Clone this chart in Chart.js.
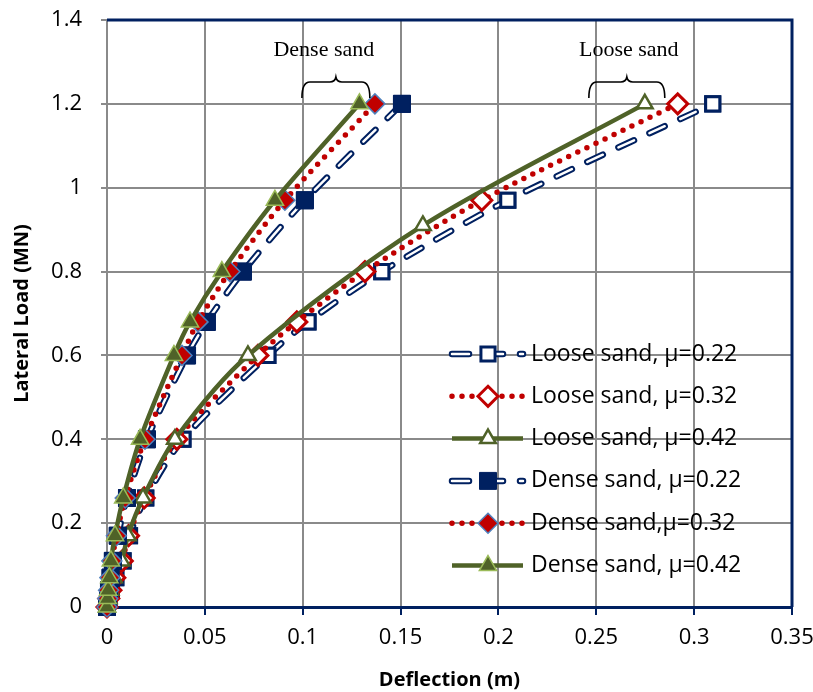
<!DOCTYPE html>
<html lang="en">
<head>
<meta charset="utf-8">
<title>Lateral load vs deflection</title>
<script src="https://cdn.jsdelivr.net/npm/chart.js@4.4.1/dist/chart.umd.min.js"></script>
<style>
  html, body { margin: 0; padding: 0; background: #fff; }
</style>
</head>
<body>
<canvas id="chart" width="813" height="692"></canvas>
<script>
// lateral load levels (MN)
var loadLevels  = [0, 0.02, 0.04, 0.07, 0.11, 0.17, 0.26, 0.4, 0.6, 0.68, 0.8, 0.97, 1.2];
var looseLoad42 = [0, 0.02, 0.04, 0.07, 0.11, 0.17, 0.26, 0.4, 0.6, 0.91, 1.2];

// deflection (m)
var looseDefl22 = [0, 0.001, 0.0022, 0.0045, 0.0082, 0.0115, 0.0198, 0.0388, 0.0822, 0.1027, 0.1404, 0.2048, 0.3095];
var looseDefl32 = [0, 0.0009, 0.002, 0.004, 0.0078, 0.011, 0.019, 0.0357, 0.0771, 0.097, 0.1318, 0.1915, 0.2916];
var looseDefl42 = [0, 0.0008, 0.0018, 0.0035, 0.0075, 0.0107, 0.0184, 0.0347, 0.072, 0.1614, 0.2748];
var denseDefl22 = [0, 0.0005, 0.001, 0.0018, 0.003, 0.0055, 0.0102, 0.0204, 0.0409, 0.051, 0.0695, 0.1011, 0.1507];
var denseDefl32 = [0, 0.0004, 0.0008, 0.0015, 0.0025, 0.0048, 0.0093, 0.0194, 0.0383, 0.0465, 0.0628, 0.0909, 0.1369];
var denseDefl42 = [0, 0.0003, 0.0006, 0.0012, 0.002, 0.0041, 0.0083, 0.0169, 0.0342, 0.0424, 0.0587, 0.0858, 0.129];

var seriesLabels = ['Loose sand, μ=0.22', 'Loose sand, μ=0.32', 'Loose sand, μ=0.42',
                    'Dense sand, μ=0.22', 'Dense sand,μ=0.32', 'Dense sand, μ=0.42'];

var xTickLabels = ['0', '0.05', '0.1', '0.15', '0.2', '0.25', '0.3', '0.35'];
var yTickLabels = ['0', '0.2', '0.4', '0.6', '0.8', '1', '1.2', '1.4'];

var NAVY = '#002060', RED = '#C00000', OLIVE = '#4F6228';

function pairs(xs, ys) {
  return xs.map(function (x, i) { return { x: x, y: ys[i] }; });
}

var navyDash = [17, 17];
var redDots = [0, 10];

var datasets = [
  { label: seriesLabels[0], data: pairs(looseDefl22, loadLevels), compound: true,
    borderColor: NAVY, borderWidth: 6.5, borderDash: navyDash, borderCapStyle: 'round',
    pointStyle: 'rect', pointRadius: 10, pointBorderWidth: 3,
    pointBackgroundColor: '#fff', pointBorderColor: NAVY, order: 5 },
  { label: seriesLabels[1], data: pairs(looseDefl32, loadLevels),
    borderColor: RED, borderWidth: 5.5, borderDash: redDots, borderCapStyle: 'round',
    pointStyle: 'rectRot', pointRadius: 10, pointBorderWidth: 3,
    pointBackgroundColor: '#fff', pointBorderColor: RED, order: 4 },
  { label: seriesLabels[2], data: pairs(looseDefl42, looseLoad42),
    borderColor: OLIVE, borderWidth: 4.5,
    pointStyle: 'triangle', pointRadius: 9, pointBorderWidth: 2.5,
    pointBackgroundColor: '#fff', pointBorderColor: OLIVE, order: 3 },
  { label: seriesLabels[3], data: pairs(denseDefl22, loadLevels), compound: true,
    borderColor: NAVY, borderWidth: 6.5, borderDash: navyDash, borderCapStyle: 'round',
    pointStyle: 'rect', pointRadius: 12, pointBorderWidth: 1,
    pointBackgroundColor: NAVY, pointBorderColor: NAVY, order: 2 },
  { label: seriesLabels[4], data: pairs(denseDefl32, loadLevels),
    borderColor: RED, borderWidth: 5.5, borderDash: redDots, borderCapStyle: 'round',
    pointStyle: 'rectRot', pointRadius: 10, pointBorderWidth: 1.5,
    pointBackgroundColor: RED, pointBorderColor: '#4F81BD', order: 1 },
  { label: seriesLabels[5], data: pairs(denseDefl42, loadLevels),
    borderColor: OLIVE, borderWidth: 4.5,
    pointStyle: 'triangle', pointRadius: 10, pointBorderWidth: 1.5,
    pointBackgroundColor: OLIVE, pointBorderColor: '#9BBB59', order: 0 }
];
datasets.forEach(function (d) {
  d.showLine = true;
  d.tension = 0.3;
  d.clip = false;
});

// draws a marker like Chart.js point styles
function drawMarker(ctx, style, x, y, r, fill, stroke, bw) {
  ctx.save();
  ctx.setLineDash([]);
  ctx.beginPath();
  if (style === 'rect') {
    var h = r * Math.SQRT1_2;
    ctx.rect(x - h, y - h, 2 * h, 2 * h);
  } else if (style === 'rectRot') {
    ctx.moveTo(x, y - r); ctx.lineTo(x + r, y); ctx.lineTo(x, y + r); ctx.lineTo(x - r, y);
    ctx.closePath();
  } else {
    for (var k = 0; k < 3; k++) {
      var a = k * 2 * Math.PI / 3;
      var px = x + Math.sin(a) * r, py = y - Math.cos(a) * r;
      if (k === 0) ctx.moveTo(px, py); else ctx.lineTo(px, py);
    }
    ctx.closePath();
  }
  ctx.fillStyle = fill;
  ctx.fill();
  ctx.lineWidth = bw;
  ctx.strokeStyle = stroke;
  ctx.stroke();
  ctx.restore();
}

// white core for the hollow dashed lines, then put the markers back on top
var compoundLine = {
  id: 'compoundLine',
  afterDatasetDraw: function (chart, args) {
    var ds = chart.data.datasets[args.index];
    if (!ds.compound) return;
    var ctx = chart.ctx, meta = args.meta;
    ctx.save();
    ctx.beginPath();
    meta.dataset.path(ctx);
    ctx.setLineDash(ds.borderDash);
    ctx.lineCap = 'round';
    ctx.lineJoin = 'round';
    ctx.lineWidth = 2.5;
    ctx.strokeStyle = '#fff';
    ctx.stroke();
    ctx.restore();
    meta.data.forEach(function (pt) { pt.draw(ctx, chart.chartArea); });
  }
};

var frame = {
  id: 'frame',
  afterDatasetsDraw: function (chart) {
    var ctx = chart.ctx, a = chart.chartArea;
    ctx.save();
    ctx.strokeStyle = NAVY;
    ctx.lineWidth = 3;
    ctx.beginPath();
    ctx.moveTo(a.left, a.top);
    ctx.lineTo(a.right, a.top);
    ctx.lineTo(a.right, a.bottom);
    ctx.stroke();
    ctx.restore();
  }
};

function brace(ctx, x1, x2, yTop, yEnd) {
  var mid = (x1 + x2) / 2, yb = yTop + 5;
  ctx.beginPath();
  ctx.moveTo(x1, yEnd);
  ctx.quadraticCurveTo(x1, yb, x1 + 8, yb);
  ctx.lineTo(mid - 6, yb);
  ctx.quadraticCurveTo(mid - 1, yb, mid, yTop);
  ctx.quadraticCurveTo(mid + 1, yb, mid + 6, yb);
  ctx.lineTo(x2 - 8, yb);
  ctx.quadraticCurveTo(x2, yb, x2, yEnd);
  ctx.stroke();
}

// group notes above the curves
var groupNotes = [
  { text: 'Dense sand', x: 0.1108, y: 1.328, from: 0.0996, to: 0.1343 },
  { text: 'Loose sand', x: 0.2666, y: 1.328, from: 0.2462, to: 0.2850 }
];

var notes = {
  id: 'notes',
  afterDraw: function (chart) {
    var ctx = chart.ctx, xs = chart.scales.x, ys = chart.scales.y;
    ctx.save();
    ctx.fillStyle = '#000';
    ctx.strokeStyle = '#000';
    ctx.lineWidth = 1.6;
    ctx.font = '22px "Liberation Serif", "Times New Roman", serif';
    ctx.textAlign = 'center';
    ctx.textBaseline = 'middle';
    groupNotes.forEach(function (n) {
      ctx.fillText(n.text, xs.getPixelForValue(n.x), ys.getPixelForValue(n.y));
      brace(ctx, xs.getPixelForValue(n.from), xs.getPixelForValue(n.to),
            ys.getPixelForValue(1.264), ys.getPixelForValue(1.214));
    });
    ctx.restore();
  }
};

// legend inside the plot, lower right
var innerLegend = {
  id: 'innerLegend',
  afterDraw: function (chart) {
    var ctx = chart.ctx;
    var x0 = 452, x1 = 523, xm = 488, xt = 531, top = 354, step = 42.3;
    chart.data.datasets.forEach(function (ds, i) {
      var y = top + i * step;
      ctx.save();
      ctx.beginPath();
      ctx.moveTo(x0, y);
      ctx.lineTo(x1, y);
      ctx.strokeStyle = ds.borderColor;
      ctx.lineWidth = ds.borderWidth;
      ctx.lineCap = ds.borderCapStyle || 'butt';
      ctx.setLineDash(ds.borderDash || []);
      ctx.stroke();
      if (ds.compound) {
        ctx.strokeStyle = '#fff';
        ctx.lineWidth = 2.5;
        ctx.stroke();
      }
      ctx.restore();
      drawMarker(ctx, ds.pointStyle, xm, y, ds.pointRadius, ds.pointBackgroundColor,
                 ds.pointBorderColor, ds.pointBorderWidth);
      ctx.save();
      ctx.fillStyle = '#000';
      ctx.font = '23px "Open Sans"';
      ctx.textAlign = 'left';
      ctx.textBaseline = 'middle';
      ctx.fillText(ds.label, xt, y);
      ctx.restore();
    });
  }
};

var config = {
  type: 'scatter',
  data: { datasets: datasets },
  plugins: [compoundLine, frame, notes, innerLegend],
  options: {
    responsive: false,
    animation: false,
    layout: { padding: { top: 20, right: 21, left: 0, bottom: 0 } },
    plugins: {
      legend: { display: false },
      tooltip: { enabled: false }
    },
    scales: {
      x: {
        type: 'linear',
        min: 0, max: 0.35,
        afterFit: function (s) {
          s.height = 85;
          s.paddingLeft = 0;
          s.paddingRight = 10;
        },
        ticks: {
          stepSize: 0.05,
          padding: 10,
          color: '#000',
          font: { family: 'Open Sans', size: 22 },
          callback: function (v, i) { return xTickLabels[i]; }
        },
        grid: { color: '#8a8a8a', lineWidth: 2, tickColor: NAVY, tickLength: 8, tickWidth: 2 },
        border: { color: NAVY, width: 3 },
        title: {
          display: true, text: 'Deflection (m)', color: '#000',
          font: { family: 'Open Sans', size: 20, weight: 'bold' },
          padding: { top: 0, bottom: 0 }
        }
      },
      y: {
        type: 'linear',
        min: 0, max: 1.4,
        afterFit: function (s) {
          s.width = 107;
          s.paddingTop = 5;
          s.paddingBottom = 5;
        },
        ticks: {
          stepSize: 0.2,
          padding: 19,
          color: '#000',
          font: { family: 'Open Sans', size: 22 },
          callback: function (v, i) { return yTickLabels[i]; }
        },
        grid: { color: '#8a8a8a', lineWidth: 2, tickColor: '#8a8a8a', tickLength: 6 },
        border: { color: '#8a8a8a', width: 2 },
        title: {
          display: true, text: 'Lateral Load (MN)', color: '#000',
          font: { family: 'Open Sans', size: 20, weight: 'bold' },
          padding: { top: 10, bottom: 0 }
        }
      }
    }
  }
};

window.onload = function () {
  var ctx = document.getElementById('chart').getContext('2d');
  window.myChart = new Chart(ctx, config);
};
</script>
</body>
</html>
